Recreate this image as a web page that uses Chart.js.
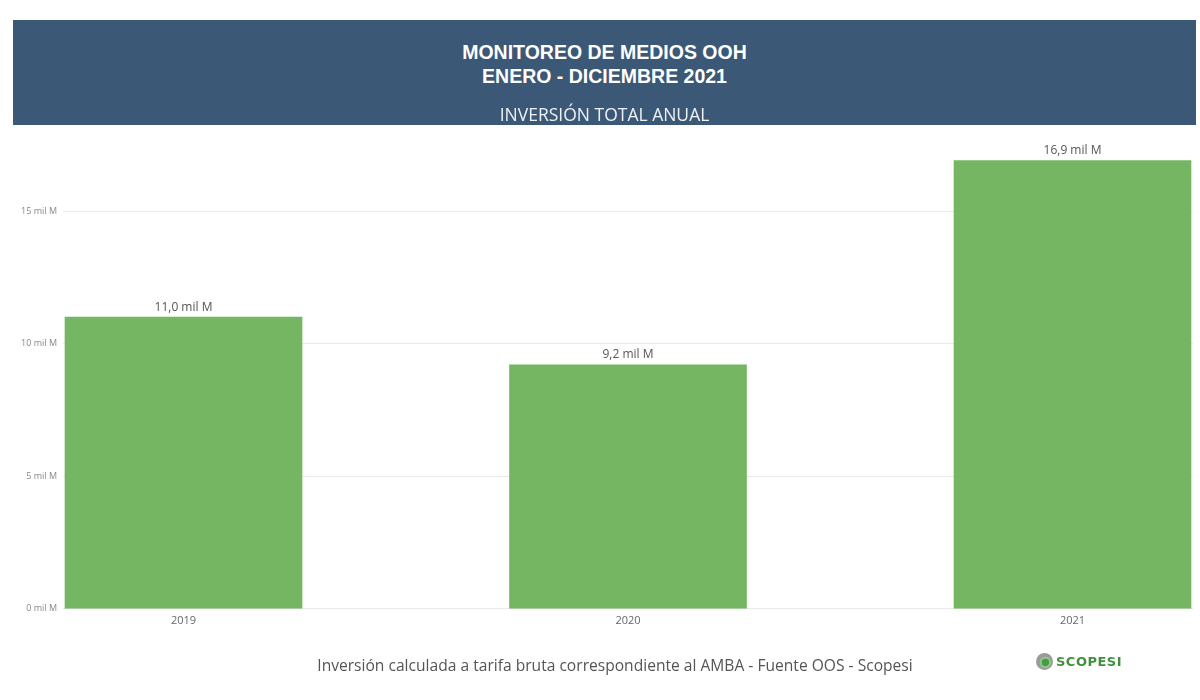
<!DOCTYPE html>
<html>
<head>
<meta charset="utf-8">
<script src="https://cdn.jsdelivr.net/npm/chart.js@4/dist/chart.umd.min.js"></script>
<style>
  body { margin:0; background:#fff; }
  #wrap { position:relative; width:1200px; height:700px; overflow:hidden; }
  #ctx { position:absolute; left:0; top:0; }
  #header { position:absolute; left:13px; top:20px; width:1183px; height:105px; background:#3b5876; color:#fff; text-align:center; }
  #header .t { font-family:"Liberation Sans", Arial, sans-serif; font-weight:bold; font-size:19.5px; line-height:24px; }
  #header .t1 { position:absolute; left:0; right:0; top:32px; transform:translateY(-50%); }
  #header .t2 { position:absolute; left:0; right:0; top:56px; transform:translateY(-50%); }
  #header .sub { position:absolute; left:0; right:0; top:94px; transform:translateY(-50%); font-family:"Open Sans", sans-serif; font-size:17.5px; color:#eef2f6; }
  #footer { position:absolute; left:10px; width:1210px; top:654px; text-align:center; font-family:"Open Sans", sans-serif; font-size:15.6px; color:#555; }
  #logo { position:absolute; left:1036px; top:652px; height:18px; display:flex; align-items:center; }
  #logo .ic { width:17px; height:17px; border-radius:50%; background:radial-gradient(circle at 55% 55%, #4a9a45 0 3.5px, #8fc48a 4px 5.5px, #9a9a9a 6px 8.5px); margin-right:3px; }
  #logo .tx { font-family:"DejaVu Sans", sans-serif; font-weight:bold; font-size:13px; color:#3f8f3c; letter-spacing:0.5px; }
</style>
</head>
<body>
<div id="wrap">
  <canvas id="ctx" width="1200" height="700"></canvas>
  <div id="header">
    <div class="t t1">MONITOREO DE MEDIOS OOH</div>
    <div class="t t2">ENERO - DICIEMBRE 2021</div>
    <div class="sub">INVERSIÓN TOTAL ANUAL</div>
  </div>
  <div id="footer">Inversión calculada a tarifa bruta correspondiente al AMBA - Fuente OOS - Scopesi</div>
  <div id="logo"><span class="ic"></span><span class="tx">SCOPESI</span></div>
</div>
<script>
const years = ['2019', '2020', '2021'];
const inversion = [11.0, 9.2, 16.9]; // mil millones
const yTicks = [0, 5, 10, 15];

const barColor = '#74b662';

const fmt = v => v.toFixed(1).replace('.', ',') + ' mil M';

const labelsPlugin = {
    id: 'barLabels',
    afterDatasetsDraw(chart) {
        const c = chart.ctx;
        const meta = chart.getDatasetMeta(0);
        c.save();
        c.font = '12px "Open Sans", sans-serif';
        c.fillStyle = '#555';
        c.textAlign = 'center';
        c.textBaseline = 'bottom';
        meta.data.forEach((bar, i) => {
            c.fillText(fmt(inversion[i]), bar.x, bar.y - 4);
        });
        c.restore();
    }
};

const pts = inversion.map((v, i) => ({x: i, y: v}));

const myChart = new Chart(document.getElementById('ctx'), {
    type: 'bar',
    data: {
        datasets: [{
            label: 'Inversión',
            data: pts,
            backgroundColor: barColor,
            borderWidth: 0,
            barThickness: 237
        }]
    },
    options: {
        responsive: false,
        animation: false,
        layout: { padding: { top: 158, right: 7, bottom: 68, left: 0 } },
        plugins: { legend: { display: false }, tooltip: { enabled: false } },
        scales: {
            x: {
                type: 'linear',
                offset: false,
                min: -0.2711,
                max: 2.2711,
                afterBuildTicks: axis => { axis.ticks = years.map((y, i) => ({value: i})); },
                ticks: {
                    callback: v => years[v],
                    color: '#666',
                    font: { size: 11, family: '"Open Sans", sans-serif' },
                    padding: 5,
                    maxRotation: 0
                },
                grid: { display: false, tickLength: 0 },
                border: { display: false }
            },
            y: {
                min: 0,
                max: 17,
                afterBuildTicks: axis => { axis.ticks = yTicks.map(v => ({value: v})); },
                afterFit: axis => { axis.width = 63; },
                ticks: {
                    callback: v => v + ' mil M',
                    color: '#888',
                    font: { size: 9, family: '"Open Sans", sans-serif' },
                    padding: 6
                },
                grid: { color: '#e9e9e9', drawTicks: false },
                border: { display: false }
            }
        }
    },
    plugins: [labelsPlugin]
});
</script>
</body>
</html>
